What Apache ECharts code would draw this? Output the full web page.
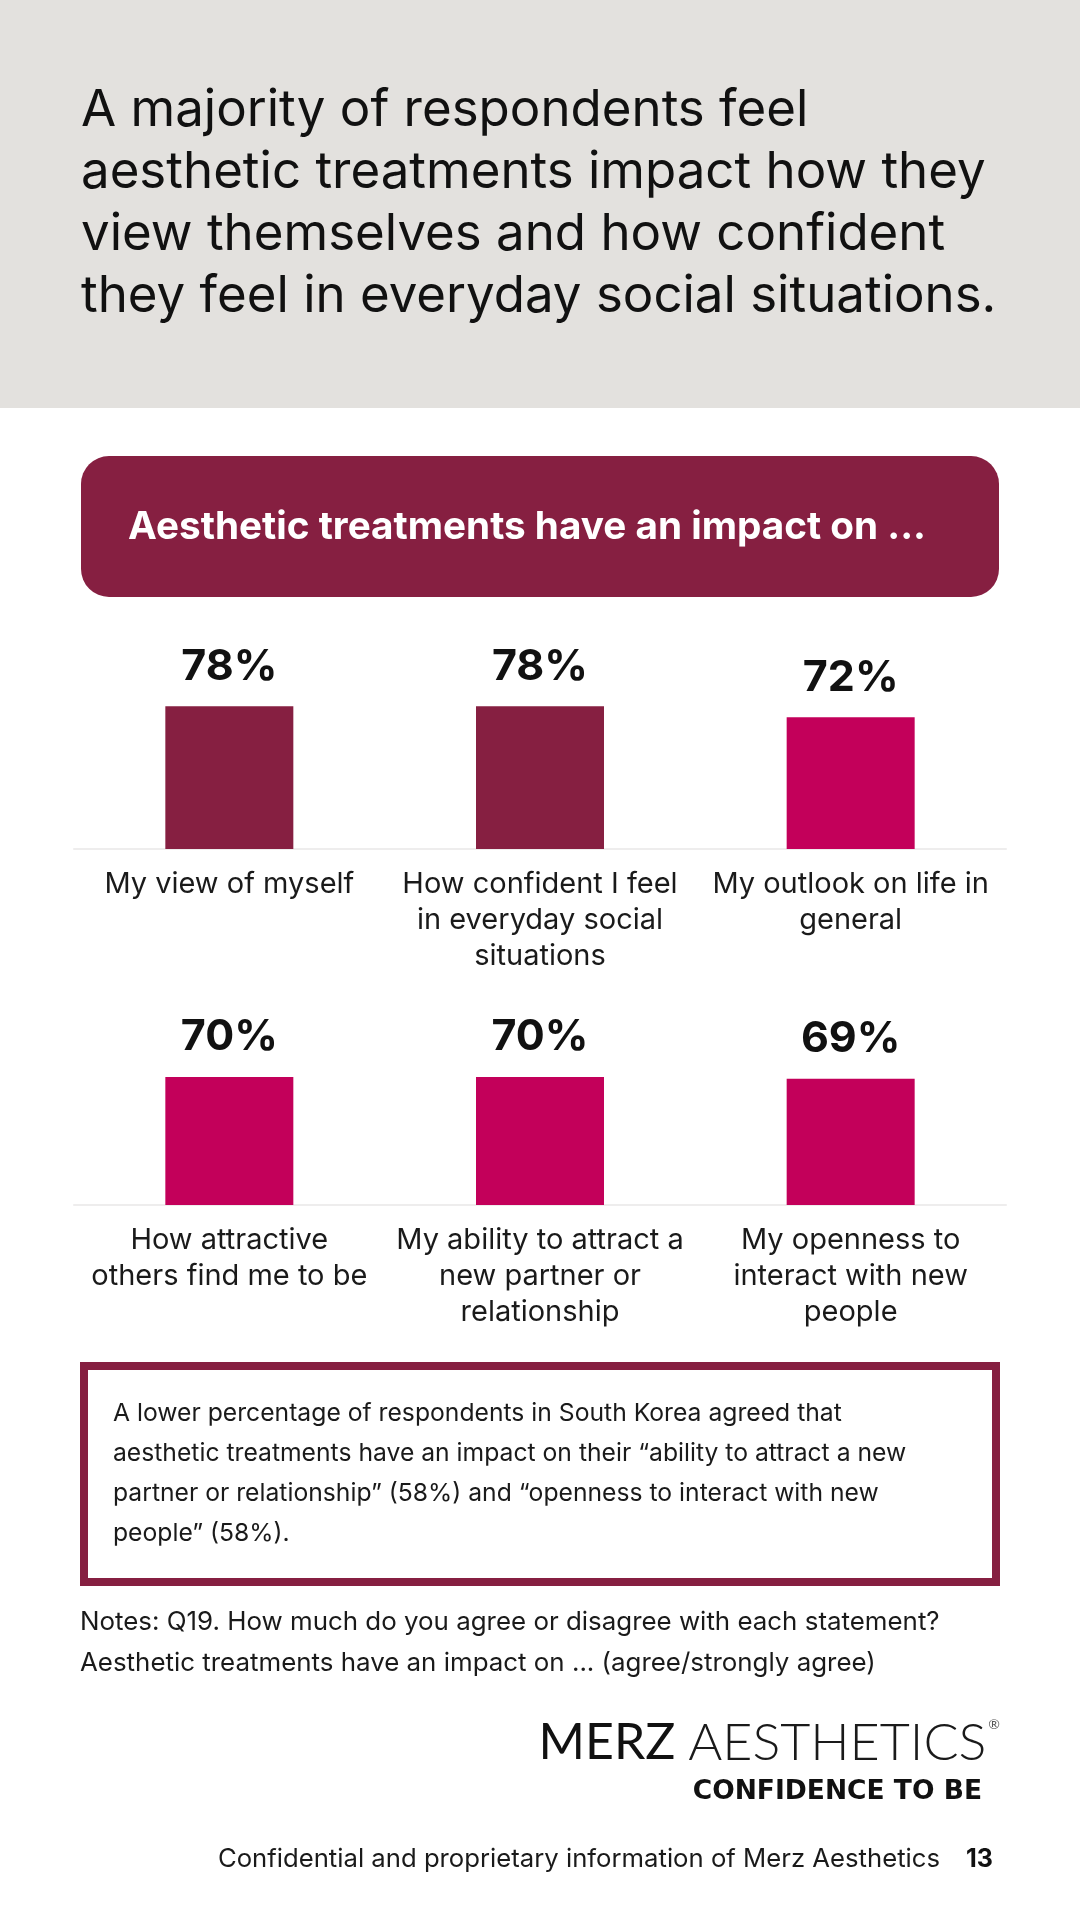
<!DOCTYPE html>
<html>
<head>
<meta charset="utf-8">
<script src="https://cdn.jsdelivr.net/npm/echarts@6/dist/echarts.min.js"></script>
<style>
  html, body { margin: 0; padding: 0; background: #fff; }
  #chart { width: 1080px; height: 1920px; }
</style>
</head>
<body>
<div id="chart"></div>
<script>
const categoriesTop = [
  'My view of myself',
  'How confident I feel\nin everyday social\nsituations',
  'My outlook on life in\ngeneral',
];
const valuesTop = [78, 78, 72];

const categoriesBottom = [
  'How attractive\nothers find me to be',
  'My ability to attract a\nnew partner or\nrelationship',
  'My openness to\ninteract with new\npeople',
];
const valuesBottom = [70, 70, 69];

const headline = 'A majority of respondents feel\naesthetic treatments impact how they\nview themselves and how confident\nthey feel in everyday social situations.';
const bannerText = 'Aesthetic treatments have an impact on ...';
const calloutText = 'A lower percentage of respondents in South Korea agreed that\naesthetic treatments have an impact on their \u201cability to attract a new\npartner or relationship\u201d (58%) and \u201copenness to interact with new\npeople\u201d (58%).';
const notesText = 'Notes: Q19. How much do you agree or disagree with each statement?\nAesthetic treatments have an impact on ... (agree/strongly agree)';
const footerText = 'Confidential and proprietary information of Merz Aesthetics';
const pageNumber = '13';

const BURGUNDY = '#861F41';
const MAGENTA = '#C3005A';
const FONT = 'Inter';

const topValue = Math.max(...valuesTop, ...valuesBottom);

function barColor(params) {
  return params.value === topValue ? BURGUNDY : MAGENTA;
}

function makeXAxis(gridIndex, data) {
  return {
    type: 'category',
    gridIndex: gridIndex,
    data: data,
    axisTick: { show: false },
    axisLine: { show: true, lineStyle: { color: '#EEEDED', width: 2 } },
    axisLabel: {
      interval: 0,
      margin: 17,
      color: '#1a1a1a',
      fontFamily: FONT,
      fontSize: 29,
      lineHeight: 36,
    },
  };
}

function makeYAxis(gridIndex) {
  return {
    type: 'value',
    gridIndex: gridIndex,
    min: 0,
    max: 100,
    show: false,
    splitLine: { show: false },
  };
}

function makeSeries(index, data) {
  return {
    type: 'bar',
    xAxisIndex: index,
    yAxisIndex: index,
    data: data,
    barWidth: 128,
    itemStyle: { color: barColor },
    label: {
      show: true,
      position: 'top',
      distance: 18,
      formatter: '{c}%',
      color: '#111',
      fontFamily: FONT,
      fontWeight: 'bold',
      fontSize: 43,
    },
  };
}

const chart = echarts.init(document.getElementById('chart'), null, { renderer: 'canvas' });

chart.setOption({
  backgroundColor: '#ffffff',
  animation: false,
  grid: [
    { left: 74, right: 74, top: 666, height: 183 },
    { left: 74, right: 74, top: 1022, height: 183 },
  ],
  xAxis: [makeXAxis(0, categoriesTop), makeXAxis(1, categoriesBottom)],
  yAxis: [makeYAxis(0), makeYAxis(1)],
  series: [makeSeries(0, valuesTop), makeSeries(1, valuesBottom)],
  graphic: [
    {
      type: 'rect',
      z: -10,
      shape: { x: 0, y: 0, width: 1080, height: 408 },
      style: { fill: '#E3E1DE' },
    },
    {
      type: 'text',
      x: 81,
      y: 80,
      style: {
        text: headline,
        fill: '#111',
        font: '51px ' + FONT,
        lineHeight: 62,
        verticalAlign: 'top',
      },
    },
    {
      type: 'rect',
      shape: { x: 81, y: 456, width: 918, height: 141, r: 28 },
      style: { fill: BURGUNDY },
    },
    {
      type: 'text',
      x: 128,
      y: 527,
      style: {
        text: bannerText,
        fill: '#fff',
        font: 'bold 38.7px ' + FONT,
        verticalAlign: 'middle',
      },
    },
    {
      type: 'rect',
      shape: { x: 84, y: 1366, width: 912, height: 216 },
      style: { fill: 'none', stroke: BURGUNDY, lineWidth: 8 },
    },
    {
      type: 'text',
      x: 113,
      y: 1394,
      style: {
        text: calloutText,
        fill: '#1a1a1a',
        font: '24.7px ' + FONT,
        lineHeight: 40,
        verticalAlign: 'top',
      },
    },
    {
      type: 'text',
      x: 80,
      y: 1602,
      style: {
        text: notesText,
        fill: '#1a1a1a',
        font: '25.9px ' + FONT,
        lineHeight: 41,
        verticalAlign: 'top',
      },
    },
    {
      type: 'text',
      x: 1000,
      y: 1743,
      style: {
        text: '{m|MERZ }{a|AESTHETICS}{r|\u00AE}',
        align: 'right',
        verticalAlign: 'middle',
        rich: {
          m: { font: '50px Lato', fill: '#111' },
          a: { font: '300 52px Lato', fill: '#1a1a1a' },
          r: { font: '14px Lato', fill: '#555', verticalAlign: 'top', padding: [0, 0, 30, 2] },
        },
      },
    },
    {
      type: 'text',
      x: 982,
      y: 1792,
      style: {
        text: 'CONFIDENCE TO BE',
        fill: '#111',
        font: 'bold 26.5px "DejaVu Sans"',
        align: 'right',
        verticalAlign: 'middle',
      },
    },
    {
      type: 'text',
      x: 940,
      y: 1859,
      style: {
        text: footerText,
        fill: '#1a1a1a',
        font: '25.7px ' + FONT,
        align: 'right',
        verticalAlign: 'middle',
      },
    },
    {
      type: 'text',
      x: 993,
      y: 1859,
      style: {
        text: pageNumber,
        fill: '#111',
        font: 'bold 25px ' + FONT,
        align: 'right',
        verticalAlign: 'middle',
      },
    },
  ],
});
</script>
</body>
</html>
